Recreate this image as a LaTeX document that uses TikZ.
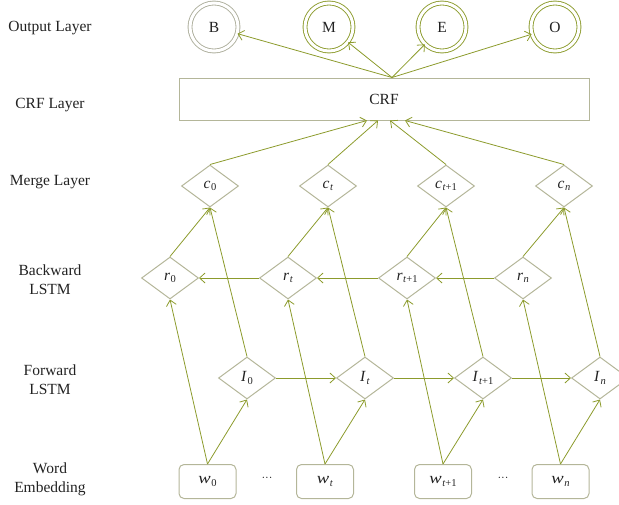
\documentclass[tikz,border=0pt]{standalone}
\usepackage{fontspec}
\setmainfont{Liberation Serif}
\usetikzlibrary{shapes.geometric,arrows.meta,calc}

\definecolor{lineolive}{HTML}{8C9B2C}
\definecolor{framegrey}{HTML}{B4B699}
\definecolor{ringgrey}{HTML}{ADAE9C}
\definecolor{inkgrey}{HTML}{222222}

% italic symbol with a lowered subscript
\newcommand{\vlab}[2]{\textit{#1}\kern0.04em\raisebox{-0.35ex}{\fontsize{10.5}{10.5}\selectfont #2}}
% the wide italic w of the embeddings
\newcommand{\wideW}{\scalebox{1.2}[1]{\itshape w}}

\begin{document}
\begin{tikzpicture}[x=1pt,y=-1pt,
  every node/.style={text=inkgrey},
  lay/.style={align=center,font=\fontsize{15.5}{19}\selectfont},
  outc/.style={circle,minimum size=48pt,inner sep=0pt,line width=0.9pt,
    double=white,double distance=3pt,font=\fontsize{15.5}{15.5}\selectfont},
  dia/.style={diamond,draw=framegrey,line width=1pt,minimum width=57pt,
    minimum height=42pt,inner sep=0pt,font=\fontsize{15.5}{15.5}\selectfont},
  wbox/.style={rectangle,rounded corners=5pt,draw=framegrey,line width=1pt,
    minimum width=57pt,minimum height=34pt,inner sep=0pt,
    font=\fontsize{15.5}{15.5}\selectfont},
  arr/.style={draw=lineolive,line width=0.8pt,
    -{Straight Barb[length=5.5pt,width=10pt]}},
  dots/.style={font=\fontsize{11}{11}\selectfont}]

\useasboundingbox (0,0) rectangle (619,504);

% layer names
\node[lay] (lo) at (50,28)  {Output Layer};
\node[lay] (lc) at (50,105) {CRF Layer};
\node[lay] (lm) at (50,182) {Merge Layer};
\node[lay] (lb) at (50,280) {Backward\\LSTM};
\node[lay] (lf) at (50,380) {Forward\\LSTM};
\node[lay] (lw) at (50,479) {Word\\Embedding};

% output tags
\node[outc,draw=ringgrey]  (oB) at (214,27) {B};
\node[outc,draw=lineolive] (oM) at (329,27) {M};
\node[outc,draw=lineolive] (oE) at (442,27) {E};
\node[outc,draw=lineolive] (oO) at (555,27) {O};

% CRF
\node[rectangle,draw=framegrey,line width=1pt,minimum width=410pt,
  minimum height=42pt,inner sep=0pt,font=\fontsize{15.5}{15.5}\selectfont]
  (crf) at (384,99) {CRF};
\coordinate (crfout) at ($(crf.north)+(8,0)$);
\coordinate (crfin0) at ($(crf.south)+(-17,0)$);
\coordinate (crfin1) at ($(crf.south)+(-6,0)$);
\coordinate (crfin2) at ($(crf.south)+(6,0)$);
\coordinate (crfin3) at ($(crf.south)+(21,0)$);

% merge layer
\node[dia] (c0) at (210,186) {\vlab{c}{0}};
\node[dia] (c1) at (328,186) {\vlab{c}{\textit{t}}};
\node[dia] (c2) at (446,186) {\vlab{c}{\textit{t}+1}};
\node[dia] (c3) at (564,186) {\vlab{c}{\textit{n}}};

% backward LSTM
\node[dia] (r0) at (170,278) {\vlab{r}{0}};
\node[dia] (r1) at (288,278) {\vlab{r}{\textit{t}}};
\node[dia] (r2) at (407,278) {\vlab{r}{\textit{t}+1}};
\node[dia] (r3) at (523,278) {\vlab{r}{\textit{n}}};

% forward LSTM
\node[dia] (I0) at (247,378) {\vlab{I}{0}};
\node[dia] (I1) at (365,378) {\vlab{I}{\textit{t}}};
\node[dia] (I2) at (483,378) {\vlab{I}{\textit{t}+1}};
\node[dia] (I3) at (600,378) {\vlab{I}{\textit{n}}};

% word embeddings
\node[wbox] (w0) at (207.5,481.5) {\vlab{\wideW}{0}};
\node[wbox] (w1) at (325,481.5)   {\vlab{\wideW}{\textit{t}}};
\node[wbox] (w2) at (443,481.5)   {\vlab{\wideW}{\textit{t}+1}};
\node[wbox] (w3) at (560.5,481.5) {\vlab{\wideW}{\textit{n}}};
\node[dots] (d0) at (267,479) {···};
\node[dots] (d1) at (503,479) {···};

% CRF to outputs
\draw[arr] (crfout) -- (oB);
\draw[arr] (crfout) -- (oM);
\draw[arr] (crfout) -- (oE);
\draw[arr] (crfout) -- (oO);

% merge to CRF
\draw[arr] (c0.north) -- (crfin0);
\draw[arr] (c1.north) -- (crfin1);
\draw[arr] (c2.north) -- (crfin2);
\draw[arr] (c3.north) -- (crfin3);

% per-position connections
\foreach \k in {0,1,2,3}{
  \draw[arr] (w\k.north) -- (I\k.south);
  \draw[arr] (w\k.north) -- (r\k.south);
  \draw[arr] (I\k.north) -- (c\k.south);
  \draw[arr] (r\k.north) -- (c\k.south);
}

% recurrent links
\draw[arr] (I0.east) -- (I1.west);
\draw[arr] (I1.east) -- (I2.west);
\draw[arr] (I2.east) -- (I3.west);
\draw[arr] (r1.west) -- (r0.east);
\draw[arr] (r2.west) -- (r1.east);
\draw[arr] (r3.west) -- (r2.east);
\end{tikzpicture}
\end{document}
